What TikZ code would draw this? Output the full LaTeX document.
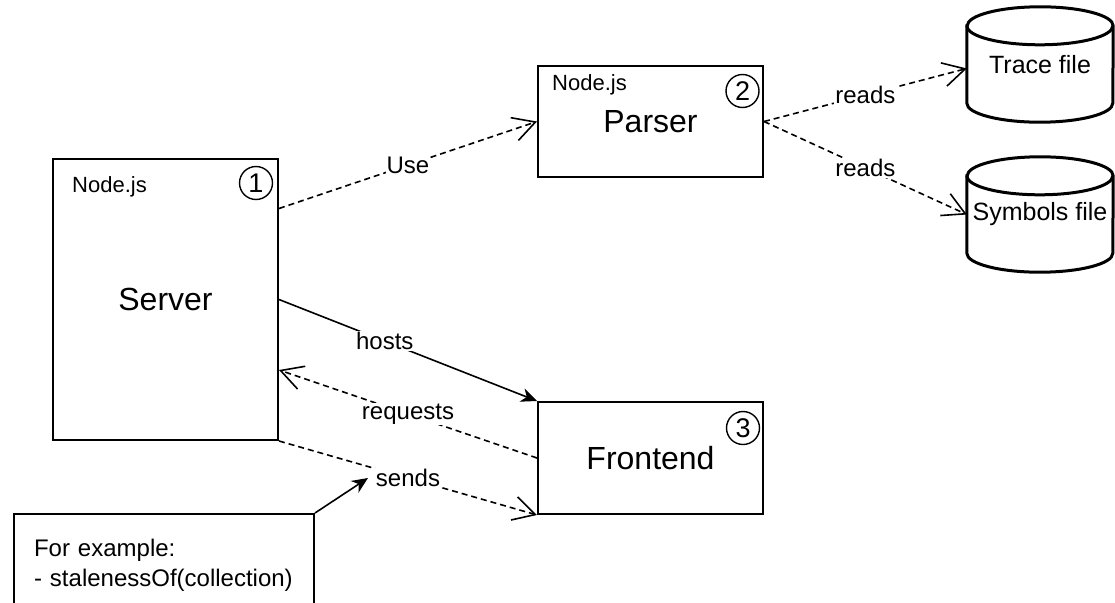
\documentclass[tikz,border=0pt]{standalone}
\usepackage{fontspec}
\setmainfont{Liberation Sans}
\usetikzlibrary{arrows.meta,calc}
\begin{document}
\begin{tikzpicture}[x=1pt,y=-1pt,
  box/.style={draw,line width=2pt,inner sep=0pt},
  title/.style={font=\fontsize{32}{38}\selectfont},
  tag/.style={font=\fontsize{22}{26}\selectfont,anchor=west,inner sep=0pt},
  badge/.style={circle,draw,line width=1.4pt,minimum size=33pt,inner sep=0pt,font=\fontsize{27}{30}\selectfont},
  lbl/.style={font=\fontsize{24}{28}\selectfont,fill=white,inner sep=1pt},
  store/.style={inner sep=0pt,minimum width=146pt,minimum height=115pt,font=\fontsize{25}{30}\selectfont},
  cyl/.style={line width=3pt},
  flow/.style={line width=1.6pt,dash pattern=on 6pt off 4pt,-{Straight Barb[length=22pt,width=24pt]}},
  push/.style={line width=1.6pt,-{Stealth[length=16pt,width=14pt,inset=5pt]}},
]
\useasboundingbox (0,0) rectangle (1115,602);
\clip (0,0) rectangle (1115,602);

% components
\node[box,title,minimum width=225pt,minimum height=281pt] (server) at (165.5,299.5) {Server};
\node[tag] (servertag) at (72,187) {Node.js};
\node[badge] (badge1) at (256,183) {1};

\node[box,title,minimum width=225pt,minimum height=111pt] (parser) at (650.5,121.5) {Parser};
\node[tag] (parsertag) at (552,85) {Node.js};
\node[badge] (badge2) at (742.5,91) {2};

\node[box,title,minimum width=225pt,minimum height=112pt] (frontend) at (650.5,458) {Frontend};
\node[badge] (badge3) at (743,428) {3};

% data files
\node[store] (trace) at (1040,64.5) {Trace file};
\node[store] (symbols) at (1040,214.5) {Symbols file};
\foreach \f in {trace,symbols}{
  \draw[cyl] ([yshift=-19pt]\f.north west) -- ([yshift=19pt]\f.south west)
    arc[start angle=180,end angle=0,x radius=73,y radius=19]
    -- ([yshift=-19pt]\f.north east)
    arc[start angle=0,end angle=-180,x radius=73,y radius=19] -- cycle;
  \draw[cyl] ([yshift=-19pt]\f.north west) arc[start angle=180,end angle=0,x radius=73,y radius=19];
}

% note
\node[draw,line width=2pt,text width=260pt,inner xsep=20pt,inner ysep=0pt,
      minimum height=102pt,align=left,anchor=north west,
      font=\fontsize{24}{30}\selectfont] (note) at (13,513)
      {For example:\\- stalenessOf(collection)};
\coordinate (notepin) at (368,478);

% connections
\draw[flow] ([yshift=91pt]server.east) -- node[lbl]{Use} (parser.west);
\draw[flow] (parser.east) -- node[lbl]{reads} ([yshift=-4pt]trace.west);
\draw[flow] (parser.east) -- node[lbl]{reads} (symbols.west);
\draw[push] (server.east) -- node[lbl,pos=0.41]{hosts} (frontend.north west);
\draw[flow] (frontend.west) -- node[lbl]{requests} ([yshift=-70.5pt]server.east);
\draw[flow] (server.south east) -- node[lbl]{sends} (frontend.south west);
\draw[push] (note.north east) -- (notepin);
\end{tikzpicture}
\end{document}
